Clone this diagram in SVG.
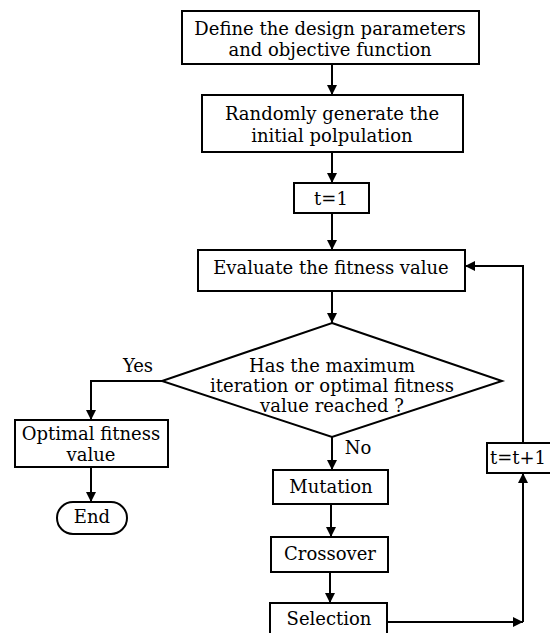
<svg xmlns="http://www.w3.org/2000/svg" width="550" height="633" viewBox="0 0 550 633">
  <defs>
    <marker id="arrow" viewBox="0 0 10 10" refX="10" refY="5" markerWidth="5" markerHeight="6" markerUnits="strokeWidth" orient="auto">
      <path d="M0,0 L10,5 L0,10 z" fill="#000"/>
    </marker>
  </defs>
  <style>
    .box { fill: #fff; stroke: #000; stroke-width: 2; }
    text { font-family: "DejaVu Serif", "Liberation Serif", serif; font-size: 18px; fill: #000; text-anchor: middle; }
    .edge { fill: none; stroke: #000; stroke-width: 2; marker-end: url(#arrow); }
  </style>
  <rect width="550" height="633" fill="#fff"/>

  <g id="connectors">
    <line class="edge" x1="332" y1="64" x2="332" y2="95"/>
    <line class="edge" x1="332" y1="152" x2="332" y2="183"/>
    <line class="edge" x1="332" y1="213" x2="332" y2="250"/>
    <line class="edge" x1="332" y1="291" x2="332" y2="323"/>
    <polyline class="edge" points="162,381 91,381 91,420"/>
    <line class="edge" x1="91" y1="467" x2="91" y2="502"/>
    <line class="edge" x1="332" y1="437" x2="332" y2="470"/>
    <line class="edge" x1="331" y1="504" x2="331" y2="537"/>
    <line class="edge" x1="330" y1="572" x2="330" y2="603"/>
    <line class="edge" x1="387" y1="622" x2="523" y2="622"/>
    <line class="edge" x1="523" y1="622" x2="523" y2="473"/>
    <polyline class="edge" points="523,443 523,266 465,266"/>
    <text x="138" y="372">Yes</text>
    <text x="358" y="454">No</text>
  </g>

  <g id="define">
    <rect class="box" x="182" y="11" width="297" height="53"/>
    <text x="330" y="35">Define the design parameters</text>
    <text x="330" y="56">and objective function</text>
  </g>
  <g id="generate">
    <rect class="box" x="202" y="95" width="261" height="57"/>
    <text x="332" y="120">Randomly generate the</text>
    <text x="332" y="142">initial polpulation</text>
  </g>
  <g id="init-t">
    <rect class="box" x="294" y="183" width="75" height="30"/>
    <text x="331" y="205">t=1</text>
  </g>
  <g id="evaluate">
    <rect class="box" x="198" y="250" width="267" height="41"/>
    <text x="331" y="274">Evaluate the fitness value</text>
  </g>
  <g id="decision">
    <polygon class="box" points="332,323 502,381 332,437 162,381"/>
    <text x="332" y="372">Has the maximum</text>
    <text x="332" y="392">iteration or optimal fitness</text>
    <text x="332" y="412">value reached ?</text>
  </g>
  <g id="optimal">
    <rect class="box" x="15" y="420" width="153" height="47"/>
    <text x="91" y="440">Optimal fitness</text>
    <text x="91" y="461">value</text>
  </g>
  <g id="end">
    <rect class="box" x="57" y="502" width="70" height="32" rx="16" ry="16"/>
    <text x="92" y="523">End</text>
  </g>
  <g id="mutation">
    <rect class="box" x="273" y="470" width="115" height="34"/>
    <text x="331" y="493">Mutation</text>
  </g>
  <g id="crossover">
    <rect class="box" x="271" y="537" width="117" height="35"/>
    <text x="330" y="560">Crossover</text>
  </g>
  <g id="selection">
    <rect class="box" x="270" y="603" width="117" height="40"/>
    <text x="329" y="625">Selection</text>
  </g>
  <g id="increment">
    <rect class="box" x="487" y="443" width="70" height="30"/>
    <text x="518" y="464">t=t+1</text>
  </g>
</svg>
